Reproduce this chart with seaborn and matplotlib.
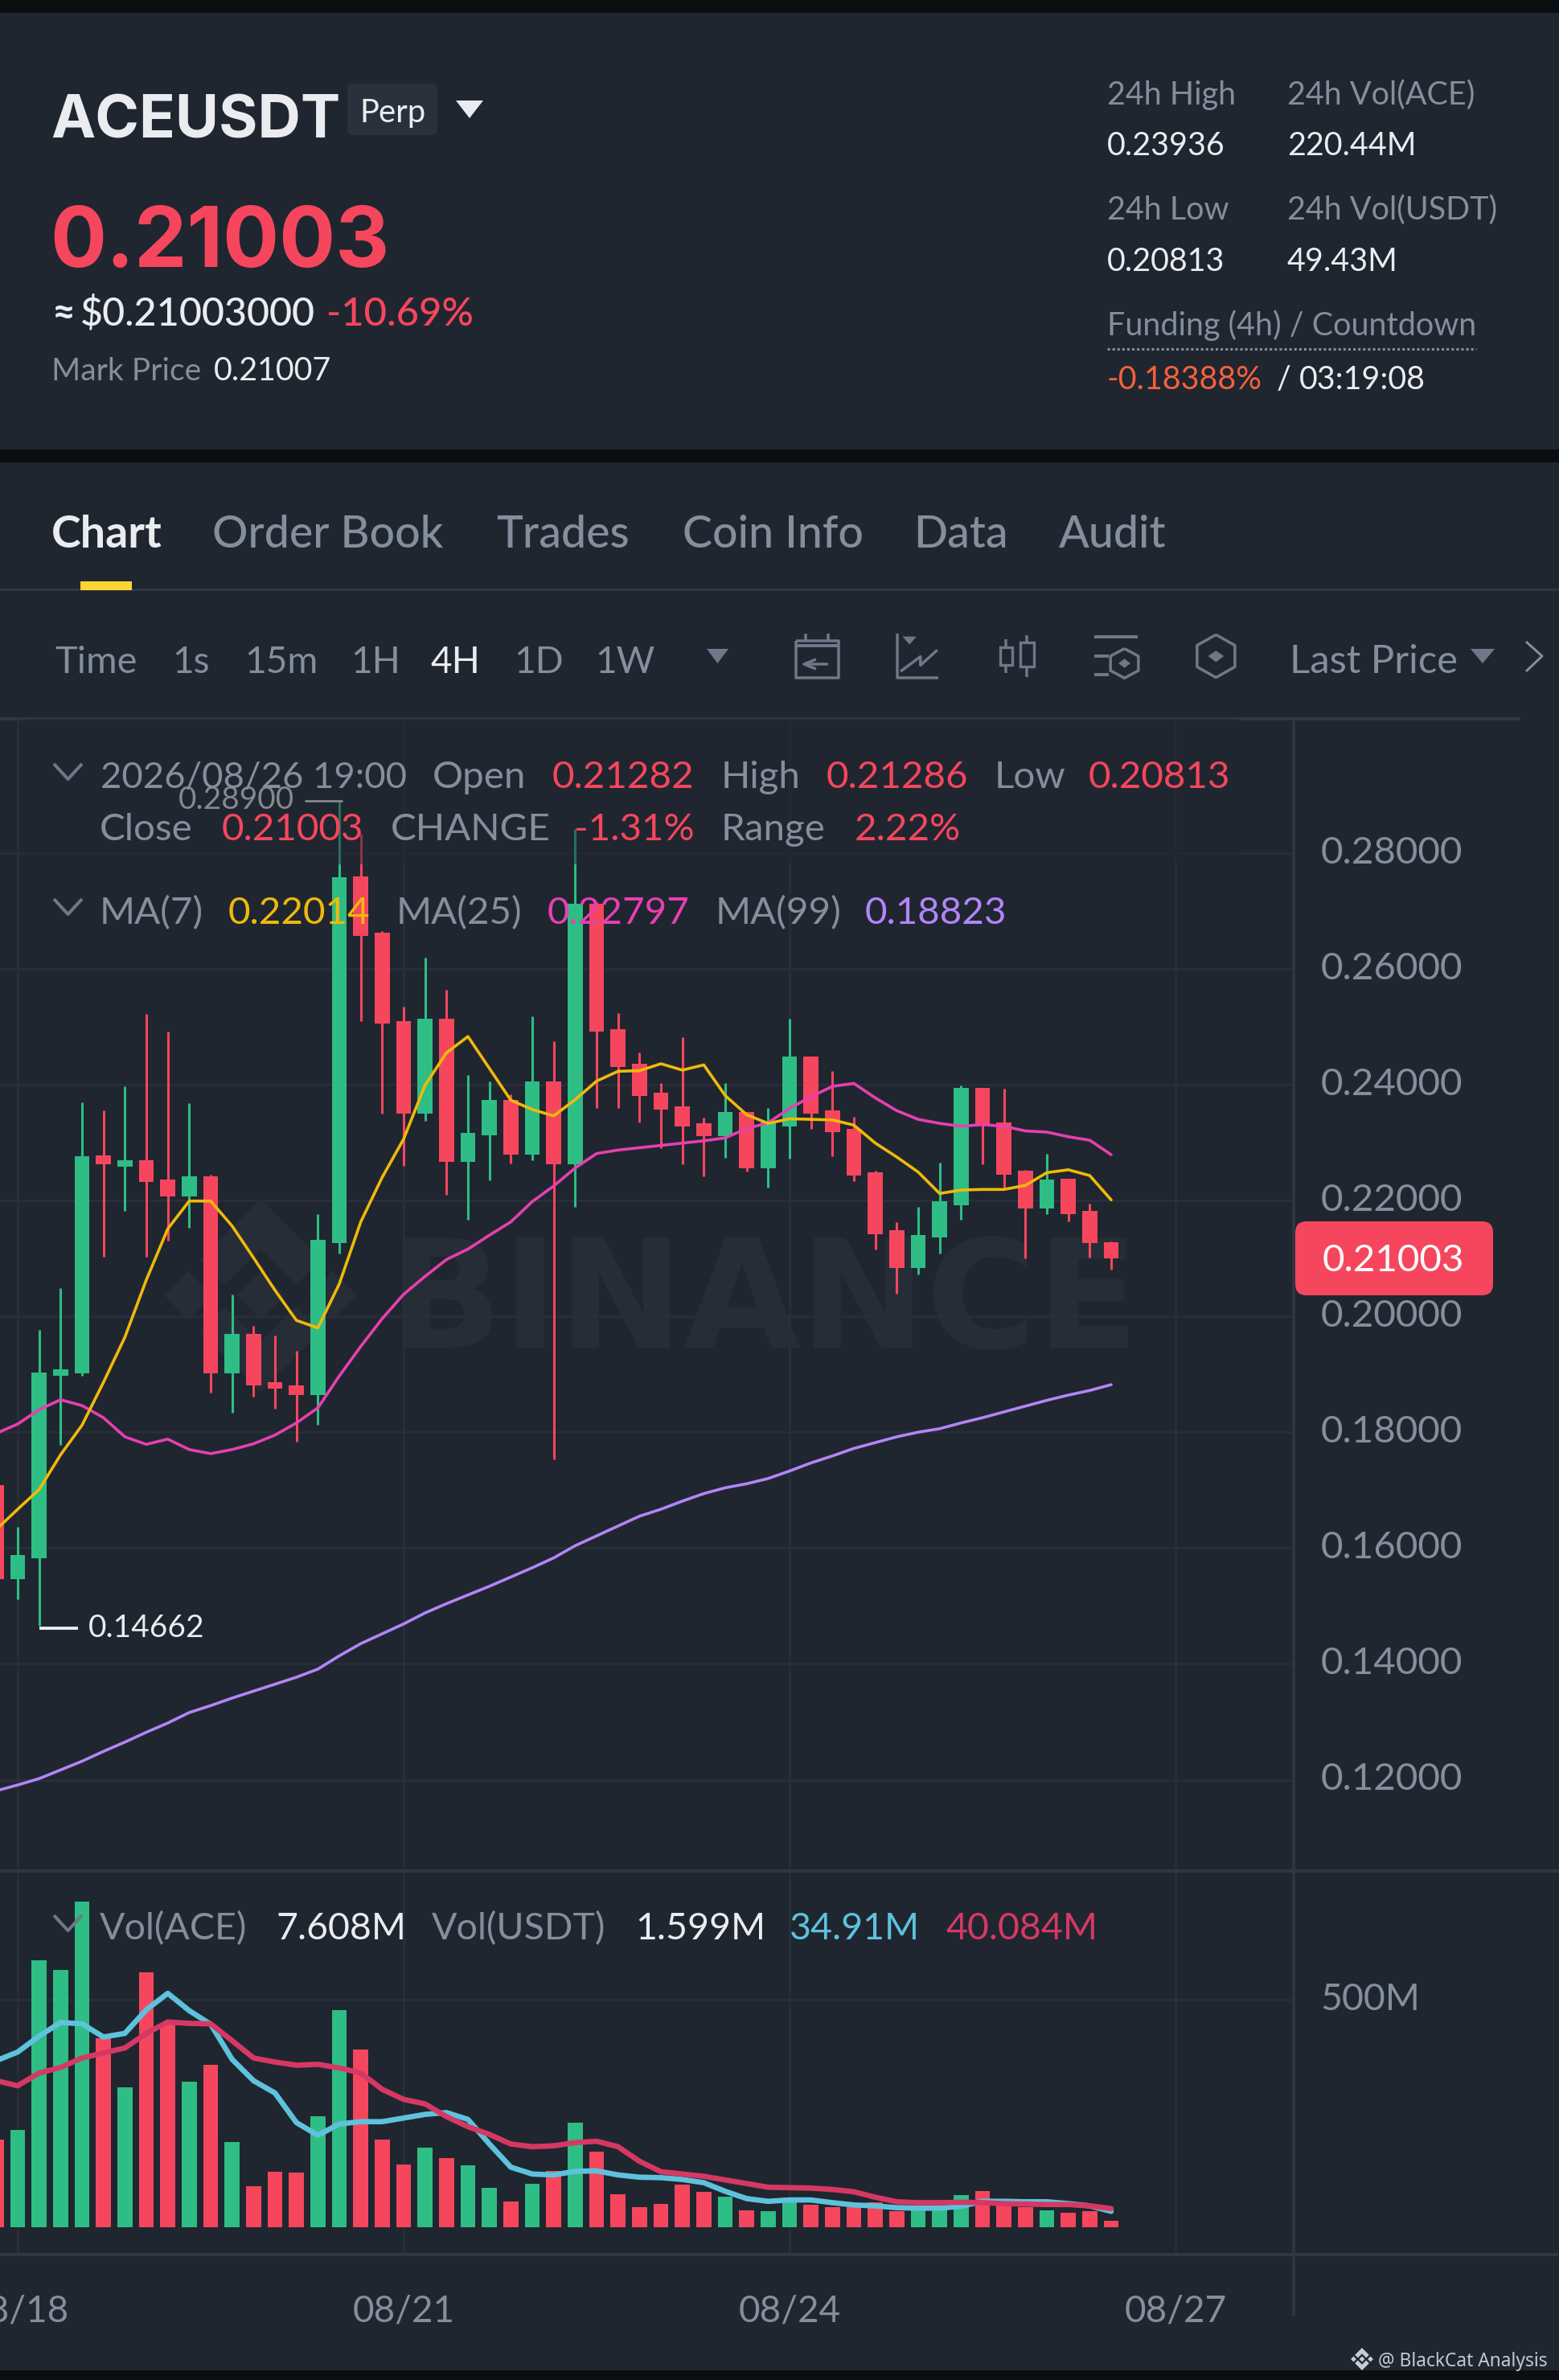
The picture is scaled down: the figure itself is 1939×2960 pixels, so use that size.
import numpy as np
import pandas as pd
import seaborn as sns
import matplotlib
matplotlib.use("Agg")
import matplotlib.pyplot as plt
from matplotlib.patches import FancyBboxPatch, Polygon, Rectangle
from matplotlib.transforms import ScaledTranslation

# ---------- data ----------
candle_index = list(range(-1, 52))
opens = [0.1709, 0.1546, 0.1583, 0.1897, 0.1902, 0.2278, 0.2258, 0.2269, 0.2236, 0.2207, 0.2241,
         0.1902, 0.1970, 0.1886, 0.1881, 0.1864, 0.2126, 0.2759, 0.2662, 0.2510, 0.2350, 0.2514,
         0.2266, 0.2312, 0.2373, 0.2279, 0.2405, 0.2263, 0.2712, 0.2495, 0.2436, 0.2386, 0.2363,
         0.2333, 0.2311, 0.2353, 0.2256, 0.2328, 0.2449, 0.2355, 0.2324, 0.2249, 0.2148, 0.2084,
         0.2136, 0.2192, 0.2395, 0.2334, 0.2251, 0.2186, 0.2237, 0.2182, 0.21282]
closes = [0.1546, 0.1588, 0.1903, 0.1909, 0.2277, 0.2262, 0.2270, 0.2232, 0.2207, 0.2241, 0.1902,
          0.1970, 0.1881, 0.1875, 0.1864, 0.2132, 0.2758, 0.2657, 0.2505, 0.2350, 0.2514, 0.2266,
          0.2317, 0.2373, 0.2279, 0.2405, 0.2263, 0.2712, 0.2491, 0.2431, 0.2380, 0.2357, 0.2327,
          0.2311, 0.2353, 0.2256, 0.2334, 0.2449, 0.2350, 0.2318, 0.2243, 0.2142, 0.2084, 0.2141,
          0.2198, 0.2395, 0.2331, 0.2245, 0.2186, 0.2236, 0.2177, 0.2126, 0.21003]
highs = [0.1720, 0.1636, 0.1977, 0.2049, 0.2369, 0.2355, 0.2397, 0.2522, 0.2492, 0.2368, 0.2244,
         0.2038, 0.1984, 0.1967, 0.1941, 0.2177, 0.2890, 0.2833, 0.2665, 0.2534, 0.2619, 0.2563,
         0.2417, 0.2405, 0.2383, 0.2518, 0.2475, 0.2841, 0.2715, 0.2523, 0.2456, 0.2402, 0.2482,
         0.2343, 0.2403, 0.2353, 0.2359, 0.2513, 0.2449, 0.2423, 0.2344, 0.2251, 0.2163, 0.2189,
         0.2265, 0.2399, 0.2395, 0.2393, 0.2253, 0.2280, 0.2237, 0.2194, 0.21286]
lows = [0.1525, 0.1512, 0.14662, 0.1778, 0.1897, 0.2103, 0.2182, 0.2103, 0.2131, 0.2153, 0.1868,
        0.1833, 0.1862, 0.1840, 0.1784, 0.1813, 0.2108, 0.2510, 0.2350, 0.2260, 0.2337, 0.2210,
        0.2167, 0.2235, 0.2264, 0.2270, 0.1753, 0.2189, 0.2359, 0.2360, 0.2335, 0.2290, 0.2262,
        0.2241, 0.2274, 0.2250, 0.2222, 0.2272, 0.2323, 0.2276, 0.2234, 0.2116, 0.2039, 0.2072,
        0.2108, 0.2166, 0.2262, 0.2222, 0.2100, 0.2176, 0.2164, 0.2101, 0.20813]
ma7 = [0.1632, 0.1667, 0.1701, 0.1761, 0.1812, 0.1886, 0.1964, 0.2063, 0.2151, 0.2199, 0.2199,
       0.2156, 0.2101, 0.2045, 0.1993, 0.1980, 0.2056, 0.2163, 0.2240, 0.2306, 0.2399, 0.2455,
       0.2483, 0.2428, 0.2373, 0.2357, 0.2346, 0.2374, 0.2406, 0.2423, 0.2424, 0.2436, 0.2425,
       0.2434, 0.2381, 0.2348, 0.2333, 0.2341, 0.2340, 0.2339, 0.2330, 0.2299, 0.2275, 0.2249,
       0.2212, 0.2218, 0.2219, 0.2219, 0.2226, 0.2248, 0.2253, 0.2243, 0.2201]
ma25 = [0.1798, 0.1814, 0.1839, 0.1856, 0.1846, 0.1825, 0.1792, 0.1779, 0.1788, 0.1770, 0.1763,
        0.1770, 0.1780, 0.1795, 0.1816, 0.1842, 0.1897, 0.1948, 0.1996, 0.2038, 0.2069, 0.2098,
        0.2116, 0.2140, 0.2163, 0.2198, 0.2225, 0.2256, 0.2281, 0.2287, 0.2291, 0.2295, 0.2299,
        0.2303, 0.2308, 0.2324, 0.2334, 0.2359, 0.2379, 0.2397, 0.2402, 0.2377, 0.2355, 0.2340,
        0.2333, 0.2328, 0.2331, 0.2328, 0.2320, 0.2318, 0.2310, 0.2304, 0.2279]
ma99 = [0.1181, 0.1191, 0.1202, 0.1217, 0.1232, 0.1249, 0.1265, 0.1282, 0.1298, 0.1316, 0.1328,
        0.1341, 0.1353, 0.1365, 0.1377, 0.1391, 0.1414, 0.1435, 0.1452, 0.1469, 0.1488, 0.1504,
        0.1519, 0.1534, 0.1550, 0.1566, 0.1583, 0.1604, 0.1621, 0.1638, 0.1655, 0.1667, 0.1681,
        0.1694, 0.1704, 0.1711, 0.1720, 0.1733, 0.1747, 0.1759, 0.1772, 0.1782, 0.1792, 0.1800,
        0.1806, 0.1816, 0.1825, 0.1835, 0.1845, 0.1855, 0.1864, 0.1872, 0.1882]
volume = [192, 213, 587, 565, 716, 416, 308, 560, 445, 320, 357, 187, 90, 122, 121, 243, 477, 390,
          192, 138, 175, 152, 136, 86, 57, 96, 123, 229, 167, 73, 45, 52, 93, 78, 68, 37, 35, 66,
          49, 44, 44, 55, 36, 47, 41, 71, 80, 47, 44, 37, 32, 35, 14.5]
vol_ma_fast = [366, 385, 420, 450, 447, 418, 426, 478, 514, 476, 446, 369, 322, 295, 230, 202, 227,
               232, 232, 240, 248, 252, 237, 183, 132, 117, 115, 123, 124, 115, 110, 109, 105, 98,
               79, 63, 57, 60, 60, 54, 49, 47, 43, 42, 42, 46, 57, 57, 56, 56, 52, 47, 35]
vol_ma_slow = [322, 311, 339, 351, 372, 383, 394, 426, 451, 448, 447, 410, 372, 363, 356, 358, 350,
               339, 303, 281, 271, 243, 221, 204, 183, 177, 179, 186, 189, 177, 145, 122, 117, 112,
               104, 96, 88, 87, 86, 83, 78, 66, 56, 54, 54, 55, 54, 52, 51, 50, 50, 47, 41]
price_ticks = [0.28, 0.26, 0.24, 0.22, 0.20, 0.18, 0.16, 0.14, 0.12]
date_ticks = [0, 18, 36, 54]
date_labels = ["08/18", "08/21", "08/24", "08/27"]

# ---------- style ----------
BG = "#1f2630"; BAND = "#0b0e11"; GRID = "#282f3a"; SEP = "#303642"
GREY = "#848e9c"; WHITE = "#eaecef"; ICON = "#6f7888"
UP = "#2ebd85"; DOWN = "#f6465d"
C7 = "#f0b90b"; C25 = "#e83fb0"; C99 = "#b385f8"; CF = "#5ec2dc"; CS = "#d63864"
sns.set_theme(style="dark")
plt.rcParams["font.family"] = ["Lato", "DejaVu Sans"]
plt.rcParams["axes.unicode_minus"] = False

W, H = 1940, 2960
fig = plt.figure(figsize=(W / 100, H / 100), dpi=100, facecolor=BG)

def full_axes(z):
    a = fig.add_axes([0, 0, 1, 1], zorder=z)
    a.set_xlim(0, W); a.set_ylim(H, 0); a.axis("off"); a.patch.set_alpha(0)
    return a

back = full_axes(0)
front = full_axes(5)

def pane(top, bottom, z):
    a = fig.add_axes([0, 1 - bottom / H, 1609 / W, (bottom - top) / H], zorder=z)
    a.patch.set_alpha(0)
    for s in a.spines.values():
        s.set_visible(False)
    return a

ax = pane(894, 2327, 2)
vx = pane(2327, 2804, 2)

df = pd.DataFrame(dict(i=candle_index, o=opens, c=closes, h=highs, l=lows, ma7=ma7, ma25=ma25,
                       ma99=ma99, vol=volume, vf=vol_ma_fast, vs=vol_ma_slow))
df["dir"] = np.where(df.c >= df.o, "up", "down")
pal = {"up": UP, "down": DOWN}

def baseline_ticks(a, down_px=13):
    off = ScaledTranslation(0, -down_px / 100, fig.dpi_scale_trans)
    for lab in a.get_yticklabels():
        lab.set_verticalalignment("baseline")
        lab.set_transform(lab.get_transform() + off)

# ---------- price pane ----------
ax.vlines(df.i, df.l, df.h, colors=df.dir.map(pal), linewidth=2.2, zorder=3, capstyle="butt")
ax.bar(df.i, (df.c - df.o).abs(), bottom=df[["o", "c"]].min(axis=1), width=0.69,
       color=df.dir.map(pal), linewidth=0, zorder=3)
for col, colr in (("ma99", C99), ("ma25", C25), ("ma7", C7)):
    sns.lineplot(data=df, x="i", y=col, color=colr, linewidth=2.6, errorbar=None, ax=ax, zorder=4,
                 sort=False)
XL = (-22 / 26.667, (1609 - 22) / 26.667)
ax.set_xlim(*XL)
ax.set_ylim(0.28 - (2327 - 1060.7) / 7205, 0.28 + (1060.7 - 894) / 7205)
ax.set_yticks(price_ticks)
ax.set_yticklabels([f"{p:.5f}" for p in price_ticks])
ax.set_xticks(date_ticks); ax.set_xticklabels([])
ax.set_xlabel(""); ax.set_ylabel("")
ax.yaxis.tick_right()
ax.grid(True, color=GRID, linewidth=1.9, zorder=0)
ax.set_axisbelow(True)
ax.tick_params(axis="y", length=0, pad=24, labelsize=34.2, labelcolor=GREY)
ax.tick_params(axis="x", length=0)
baseline_ticks(ax)

hi = max(highs); hi_i = candle_index[highs.index(hi)]
lo = min(lows); lo_i = candle_index[lows.index(lo)]
ax.plot([lo_i, lo_i + 1.8], [lo - 0.0005, lo - 0.0005], color=WHITE, linewidth=2.8, zorder=4,
        solid_capstyle="butt")
ax.annotate(f"{lo:.5f}", (lo_i + 2.3, lo), xytext=(0, -10.3), textcoords="offset points", color=WHITE,
            fontsize=28, va="baseline", ha="left", zorder=4)
ax.plot([hi_i - 1.6, hi_i + 0.15], [hi, hi], color=WHITE, linewidth=2, zorder=4, solid_capstyle="butt")
ax.annotate(f"{hi:.5f}", (hi_i - 2.1, hi), xytext=(0, -7), textcoords="offset points", color=WHITE,
            fontsize=28, va="baseline", ha="right", zorder=4)

# ---------- volume pane ----------
sns.barplot(data=df, x="i", y="vol", hue="dir", palette=pal, native_scale=True, dodge=False,
            width=0.69, errorbar=None, legend=False, ax=vx, zorder=3, linewidth=0, saturation=1)
sns.lineplot(data=df, x="i", y="vf", color=CF, linewidth=4.8, errorbar=None, ax=vx, zorder=4, sort=False)
sns.lineplot(data=df, x="i", y="vs", color=CS, linewidth=4.8, errorbar=None, ax=vx, zorder=5, sort=False)
vx.set_xlim(*XL)
vx.set_ylim(-60, 782.7)
vx.set_yticks([500]); vx.set_yticklabels(["500M"])
vx.set_xticks(date_ticks); vx.set_xticklabels(date_labels)
vx.set_xlabel(""); vx.set_ylabel("")
vx.yaxis.tick_right()
vx.grid(True, color=GRID, linewidth=1.9, zorder=0)
vx.set_axisbelow(True)
vx.tick_params(axis="y", length=0, pad=24, labelsize=33.5, labelcolor=GREY)
vx.tick_params(axis="x", length=0, pad=36, labelsize=33, labelcolor=GREY)
baseline_ticks(vx)

# ---------- chrome ----------
def T(x, y, s, px, color=GREY, weight="normal", ha="left", a=front, **kw):
    return a.text(x, y, s, fontsize=px * 0.72, color=color, fontweight=weight, ha=ha, va="baseline",
                  zorder=10, **kw)

def L(xs, ys, color=ICON, lw=3, a=front, z=9, **kw):
    a.plot(xs, ys, color=color, linewidth=lw * 0.72, zorder=z, solid_capstyle="butt", **kw)

def P(pts, color, a=front, z=9):
    a.add_patch(Polygon(pts, closed=True, facecolor=color, edgecolor="none", zorder=z))

# bands and separators
for y0, y1 in ((0, 16), (559, 575), (2948, 2960)):
    back.add_patch(Rectangle((0, y0), W, y1 - y0, facecolor=BAND, edgecolor="none"))
    front.add_patch(Rectangle((0, y0), W, y1 - y0, facecolor=BAND, edgecolor="none", zorder=1))
L([0, W], [733, 733], SEP, 3, back)
L([0, 1891], [894, 894], SEP, 4, back)
L([0, W], [2327, 2327], SEP, 4, front, 6)
L([0, 1938], [2804, 2804], SEP, 4, front, 6)
L([1609, 1609], [894, 2880], SEP, 3.5, front, 6)

# watermark
def logo(a, cx, cy, r, color, z=2):
    for dx, dy, q in ((0, 0, 0.25), (-0.75, 0, 0.25), (0.75, 0, 0.25)):
        P([(cx + dx * r - q * r, cy + dy * r), (cx + dx * r, cy - q * r), (cx + dx * r + q * r, cy),
           (cx + dx * r, cy + q * r)], color, a, z)
    for s in (-1, 1):
        P([(cx, cy + s * r), (cx + 0.63 * r, cy + s * 0.37 * r), (cx + 0.37 * r, cy + s * 0.11 * r),
           (cx, cy + s * 0.48 * r), (cx - 0.37 * r, cy + s * 0.11 * r), (cx - 0.63 * r, cy + s * 0.37 * r)],
          color, a, z)

WM = "#272d37"
logo(back, 324, 1611, 120, WM)
T(1418, 1676, "BINANCE", 187, WM, "bold", ha="right", a=back, family=["DejaVu Sans"])

# dim band behind the top legend rows
front.add_patch(Rectangle((32, 894), 1508, 181, facecolor=BG, alpha=0.5, edgecolor="none", zorder=2))

# header
T(63, 172, "ACEUSDT", 74, WHITE, "bold", family=["Inter", "Lato"])
front.add_patch(FancyBboxPatch((440, 112), 96, 48, boxstyle="round,pad=8,rounding_size=8",
                               facecolor="#2b313c", edgecolor="none", zorder=3))
T(447, 152, "Perp", 40, WHITE)
P([(567, 125), (601, 125), (584, 147)], WHITE)
T(62, 332, "0.21003", 104, DOWN, "bold", family=["Inter", "Lato"])
T(64, 405, "≈", 50, WHITE, "bold")
T(100, 405, "$0.21003000", 48.5, WHITE, "medium")
T(406, 405, "-10.69%", 49, DOWN, "medium")
T(64, 473, "Mark Price", 39, GREY)
T(266, 473, "0.21007", 39.5, WHITE)
for x, y, s, c in ((1377, 130, "24h High", GREY), (1601, 130, "24h Vol(ACE)", GREY),
                   (1377, 193, "0.23936", WHITE), (1601, 193, "220.44M", WHITE),
                   (1377, 273, "24h Low", GREY), (1601, 273, "24h Vol(USDT)", GREY),
                   (1377, 337, "0.20813", WHITE), (1601, 337, "49.43M", WHITE),
                   (1377, 417, "Funding (4h) / Countdown", GREY),
                   (1377, 484, "-0.18388%", "#f6613b"), (1588, 484, "/", WHITE), (1616, 484, "03:19:08", WHITE)):
    T(x, y, s, 39.5, c)
front.plot([1377, 1836], [434, 434], color=GREY, linewidth=2.2, linestyle=(0, (1, 1)), zorder=9)

# tabs
T(64, 681, "Chart", 55.5, WHITE, "bold")
for x, s in ((264, "Order Book"), (617, "Trades"), (849, "Coin Info"), (1136, "Data"), (1317, "Audit")):
    T(x, 681, s, 55.5, GREY, "medium")
front.add_patch(Rectangle((100, 723), 64, 11, facecolor="#fcd535", edgecolor="none", zorder=9))

# timeframe row
for x, s, c, px in ((68, "Time", GREY, 47), (214, "1s", GREY, 46), (304, "15m", GREY, 46), (436, "1H", GREY, 46),
                    (536, "4H", WHITE, 46), (639, "1D", GREY, 46), (740, "1W", GREY, 46),
                    (1604, "Last Price", GREY, 49)):
    T(x, 837, s, px, c)
P([(879, 807), (906, 807), (892.5, 825)], ICON)
P([(1829, 807), (1859, 807), (1844, 825)], ICON)
L([1898, 1918, 1898], [798, 816, 835], GREY, 3)

def Z(x, y):
    return x / 0.808, 740 + y / 3

def ZL(pts, lw=3.5, color=ICON):
    xy = [Z(*p) for p in pts]
    L([p[0] for p in xy], [p[1] for p in xy], color, lw)

ZL([(800, 170), (843, 170), (843, 310), (800, 310), (800, 170)])
ZL([(800, 190), (843, 190)], 4)
ZL([(810, 145), (810, 170)]); ZL([(832, 145), (832, 170)])
ZL([(808, 258), (832, 258)]); ZL([(820, 240), (808, 258), (820, 276)])
ZL([(902, 145), (902, 308), (943, 308)])
ZL([(905, 285), (925, 230), (925, 262), (942, 205)])
P([Z(907, 155), Z(921, 155), Z(914, 185)], ICON)
ZL([(1011, 165), (1011, 290)]); ZL([(1032, 150), (1032, 305)])
front.add_patch(Rectangle((Z(1005, 195)), 15, 22, facecolor=BG, edgecolor=ICON, linewidth=2.4, zorder=10))
front.add_patch(Rectangle((Z(1025, 178)), 17, 30, facecolor=BG, edgecolor=ICON, linewidth=2.4, zorder=10))
ZL([(1100, 155), (1143, 155)], 4)
ZL([(1100, 228), (1114, 228)], 4); ZL([(1100, 298), (1114, 298)], 4)
ZL([(1130, 200), (1144, 228), (1144, 282), (1130, 310), (1116, 282), (1116, 228), (1130, 200)])
P([Z(1130, 238), Z(1136, 255), Z(1130, 272), Z(1124, 255)], ICON)
ZL([(1222, 148), (1241, 188), (1241, 268), (1222, 308), (1203, 268), (1203, 188), (1222, 148)])
P([Z(1222, 208), Z(1230, 228), Z(1222, 250), Z(1214, 228)], ICON)

# price legend
LEG = 47.5
T(125, 980, "2026/08/26 19:00", 45.5, GREY)
for x, y, s, c in ((538, 980, "Open", GREY), (687, 980, "0.21282", DOWN),
                   (897, 980, "High", GREY), (1028, 980, "0.21286", DOWN), (1237, 980, "Low", GREY),
                   (1354, 980, "0.20813", DOWN), (124, 1045, "Close", GREY), (276, 1045, "0.21003", DOWN),
                   (486, 1045, "CHANGE", GREY), (714, 1045, "-1.31%", DOWN), (897, 1045, "Range", GREY),
                   (1063, 1045, "2.22%", DOWN), (124, 1149, "MA(7)", GREY), (284, 1149, "0.22014", C7),
                   (493, 1149, "MA(25)", GREY), (681, 1149, "0.22797", C25), (890, 1149, "MA(99)", GREY),
                   (1076, 1149, "0.18823", C99)):
    T(x, y, s, LEG, c)
L([67, 84.5, 102], [950, 969, 950], ICON, 4)
L([67, 84.5, 102], [1118, 1137, 1118], ICON, 4)

# volume legend
for x, s, c in ((124, "Vol(ACE)", GREY), (344, "7.608M", WHITE), (537, "Vol(USDT)", GREY), (790, "1.599M", WHITE),
                (982, "34.91M", CF), (1176, "40.084M", CS)):
    T(x, 2412, s, 46.5, c)
L([67, 84.5, 102], [2382, 2401, 2382], ICON, 4)

# price tag
front.add_patch(FancyBboxPatch((1623, 1531), 222, 68, boxstyle="round,pad=12,rounding_size=14",
                               facecolor=DOWN, edgecolor="none", zorder=8))
T(1733, 1581, "0.21003", LEG, "white", ha="center")

# footer
logo(front, 1694, 2934, 14, "#c8cbd1", 9)
front.text(1714, 2943, "@ BlackCat Analysis", fontsize=16.4, color="#c5c8ce", family=["Noto Sans", "DejaVu Sans"],
           ha="left", va="baseline", zorder=10)

fig.savefig("out.png", dpi=100, facecolor=BG)
